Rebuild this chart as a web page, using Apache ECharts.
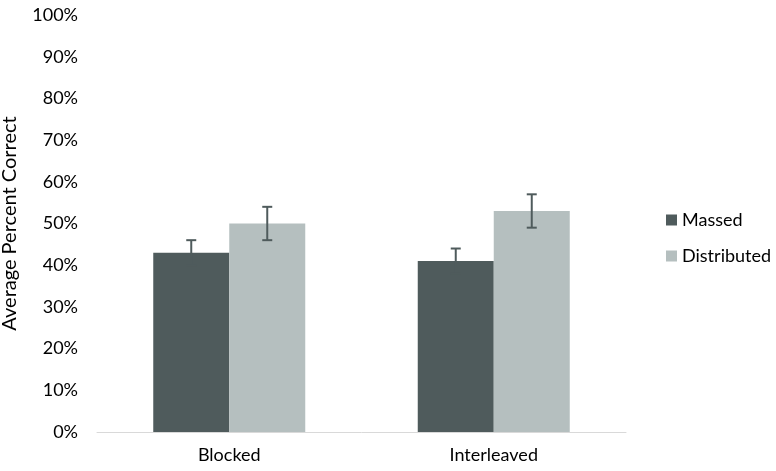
<!DOCTYPE html>
<html>
<head>
<meta charset="utf-8">
<script src="https://cdn.jsdelivr.net/npm/echarts@6/dist/echarts.min.js"></script>
<style>
  html, body { margin: 0; padding: 0; background: #fff; }
  #chart { width: 776px; height: 471px; }
</style>
</head>
<body>
<div id="chart"></div>
<script>
// 数据
const categories = ['Blocked', 'Interleaved']
const massed = [43, 41]
const distributed = [50, 53]
// 误差范围 [low, high]
const massedErr = [[40, 46], [38, 44]]
const distributedErr = [[46, 54], [49, 57]]

const seriesNames = ['Massed', 'Distributed']
const colors = ['#4f5b5c', '#b5bfbf']
const barW = 76
const font = 'Lato'

let myChart = echarts.init(document.getElementById('chart'))

// 误差线
function errorSeries(err, offset) {
    return {
        type: 'custom',
        silent: true,
        z: 10,
        data: err.map((d, i) => [i, d[0], d[1]]),
        renderItem: (params, api) => {
            const lo = api.coord([api.value(0), api.value(1)])
            const hi = api.coord([api.value(0), api.value(2)])
            const x = lo[0] + offset
            const cap = 5
            const style = { stroke: '#4f5b5c', lineWidth: 2 }
            return {
                type: 'group',
                children: [
                    { type: 'line', shape: { x1: x, y1: lo[1], x2: x, y2: hi[1] }, style },
                    { type: 'line', shape: { x1: x - cap, y1: lo[1], x2: x + cap, y2: lo[1] }, style },
                    { type: 'line', shape: { x1: x - cap, y1: hi[1], x2: x + cap, y2: hi[1] }, style }
                ]
            }
        }
    }
}

const options = {
    animation: false,
    textStyle: { fontFamily: font, color: '#000' },
    grid: {
        left: 97,
        right: 150,
        top: 15,
        bottom: 39,
        outerBoundsMode: 'none'
    },
    legend: {
        orient: 'vertical',
        left: 661,
        top: 206,
        itemWidth: 11,
        itemHeight: 11,
        itemGap: 18,
        icon: 'rect',
        data: seriesNames,
        textStyle: { fontSize: 18, color: '#000', fontFamily: font }
    },
    xAxis: {
        type: 'category',
        data: categories,
        axisLine: { lineStyle: { color: '#d9d9d9', width: 1 } },
        axisTick: { show: false },
        axisLabel: { fontSize: 18, color: '#000', margin: 14 }
    },
    yAxis: {
        type: 'value',
        min: 0,
        max: 100,
        interval: 10,
        name: 'Average Percent Correct',
        nameLocation: 'middle',
        nameGap: 77,
        nameTextStyle: { fontSize: 20, color: '#000' },
        axisLine: { show: false },
        axisTick: { show: false },
        splitLine: { show: false },
        axisLabel: {
            fontSize: 18,
            color: '#000',
            margin: 19,
            formatter: '{value}%'
        }
    },
    series: [
        {
            name: seriesNames[0],
            type: 'bar',
            data: massed,
            barWidth: barW,
            barGap: '0%',
            itemStyle: { color: colors[0] }
        },
        {
            name: seriesNames[1],
            type: 'bar',
            data: distributed,
            barWidth: barW,
            barGap: '0%',
            itemStyle: { color: colors[1] }
        },
        errorSeries(massedErr, -barW / 2),
        errorSeries(distributedErr, barW / 2)
    ]
}
myChart.setOption(options)
</script>
</body>
</html>
